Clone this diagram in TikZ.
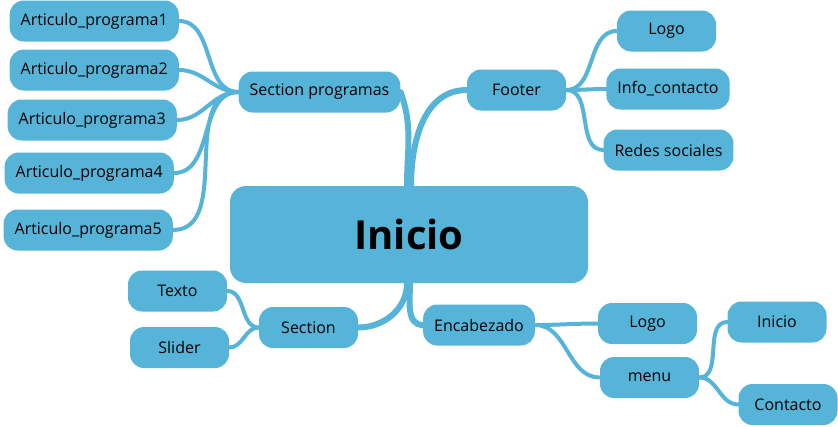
\documentclass[tikz,border=0pt]{standalone}
\usepackage{fontspec}
\setmainfont{Open Sans}
\usetikzlibrary{positioning, backgrounds}
\definecolor{mapblue}{HTML}{56B4D9}

\begin{document}
\begin{tikzpicture}[
    x=1pt, y=1pt,
    font=\fontsize{16}{18}\selectfont,
    topic/.style={fill=mapblue, rounded corners=14pt, minimum width=99pt,
                  minimum height=41pt, inner xsep=11pt, align=center},
    rootbox/.style={fill=mapblue, rounded corners=16pt, minimum width=358pt,
                    minimum height=97pt, font=\fontsize{40}{44}\selectfont\bfseries},
    branch/.style={draw=mapblue, line width=4pt, line cap=round},
    trunk/.style={draw=mapblue, line width=6pt, line cap=round},
]
    \useasboundingbox (0,0) rectangle (838,-426);

    %==================== ROOT ====================
    \node[rootbox] (inicio) at (409,-234.5) {Inicio};

    %==================== SECTION PROGRAMAS ====================
    \node[topic] (secprog) at (319.5,-92) {Section programas};
    \node[topic, anchor=east] (art1) at (179,-21) {Articulo\_programa1};
    \node[topic, anchor=east] (art2) at (179,-70) {Articulo\_programa2};
    \node[topic, anchor=east] (art3) at (177,-120) {Articulo\_programa3};
    \node[topic, anchor=east] (art4) at (174,-173) {Articulo\_programa4};
    \node[topic, anchor=east] (art5) at (173,-230) {Articulo\_programa5};

    %==================== FOOTER ====================
    \node[topic] (footer) at (516.5,-90) {Footer};
    \node[topic] (flogo) at (666.5,-31) {Logo};
    \node[topic] (finfo) at (668,-89) {Info\_contacto};
    \node[topic] (fredes) at (668.5,-150) {Redes sociales};

    %==================== SECTION ====================
    \node[topic] (section) at (308.5,-327.5) {Section};
    \node[topic] (texto) at (177.5,-291) {Texto};
    \node[topic] (slider) at (179.5,-347.5) {Slider};

    %==================== ENCABEZADO ====================
    \node[topic] (encab) at (479,-325) {Encabezado};
    \node[topic] (hlogo) at (647.5,-323.5) {Logo};
    \node[topic] (menu) at (649.5,-377.5) {menu};
    \node[topic] (minicio) at (777,-322) {Inicio};
    \node[topic] (mcontacto) at (788,-404.5) {Contacto};

    %==================== connectors ====================
    \begin{scope}[on background layer]
        \draw[trunk] (secprog.east) to[out=-70, in=90] ([xshift=-2pt]inicio.north);
        \draw[trunk] (footer.west) to[out=180, in=90] ([xshift=2pt]inicio.north);
        \draw[trunk] (section.east) to[out=0, in=-90] ([xshift=-2pt]inicio.south);
        \draw[trunk] (encab.west) to[out=180, in=-90] ([xshift=1pt]inicio.south);

        \draw[branch] (art1.east) to[out=0, in=180] (secprog.west);
        \draw[branch] (art2.east) to[out=0, in=180] (secprog.west);
        \draw[branch] (art3.east) to[out=0, in=180] (secprog.west);
        \draw[branch] (art4.east) to[out=0, in=180] (secprog.west);
        \draw[branch] (art5.east) to[out=0, in=180] (secprog.west);

        \draw[branch] (footer.east) to[out=0, in=180] (flogo.west);
        \draw[branch] (footer.east) to[out=0, in=180] (finfo.west);
        \draw[branch] (footer.east) to[out=0, in=180] (fredes.west);

        \draw[branch] (texto.east) to[out=0, in=180] (section.west);
        \draw[branch] (slider.east) to[out=0, in=180] (section.west);

        \draw[branch] (encab.east) to[out=0, in=180] (hlogo.west);
        \draw[branch] (encab.east) to[out=0, in=180] (menu.west);
        \draw[branch] (menu.east) to[out=0, in=180] (minicio.west);
        \draw[branch] (menu.east) to[out=0, in=180] (mcontacto.west);
    \end{scope}

\end{tikzpicture}
\end{document}
